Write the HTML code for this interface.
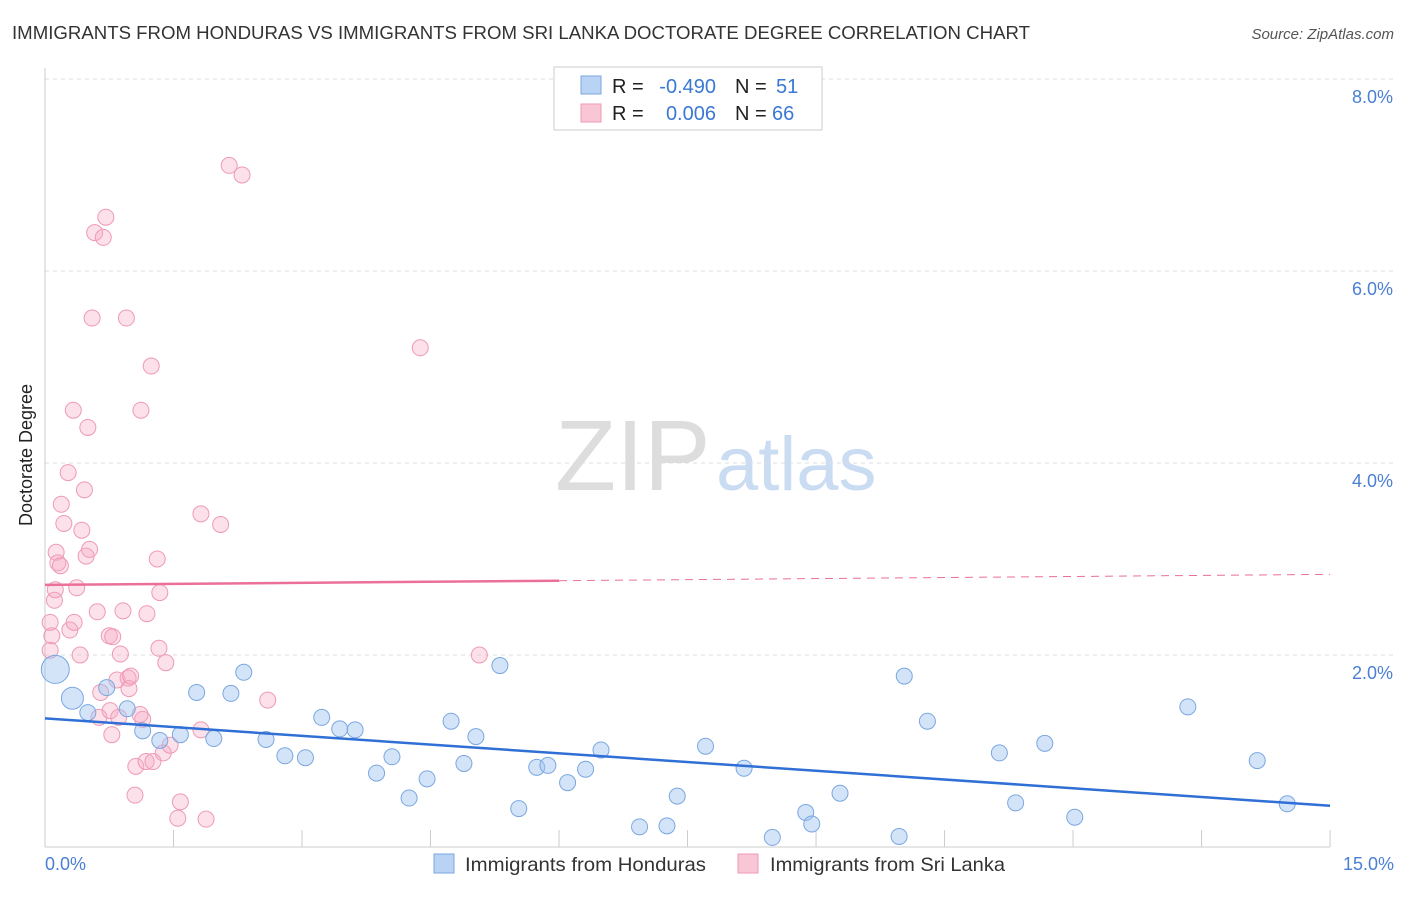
<!DOCTYPE html>
<html><head><meta charset="utf-8"><style>
body{margin:0;background:#fff;font-family:"Liberation Sans",sans-serif;}
svg text{font-family:"Liberation Sans",sans-serif;}
</style></head><body>
<svg id="chart" width="1406" height="892" xmlns="http://www.w3.org/2000/svg">
<text x="12" y="39" font-size="18" fill="#333" textLength="1018" lengthAdjust="spacingAndGlyphs">IMMIGRANTS FROM HONDURAS VS IMMIGRANTS FROM SRI LANKA DOCTORATE DEGREE CORRELATION CHART</text>
<text x="1394" y="39" font-size="15" fill="#555" font-style="italic" text-anchor="end">Source: ZipAtlas.com</text>
<text x="555" y="490" font-size="100" fill="#ddd" font-family="Liberation Serif">ZIP</text>
<text x="716" y="490" font-size="76" fill="#c9dcf2">atlas</text>
<g id="grid"></g>
<line x1="45" y1="68" x2="45" y2="847" stroke="#ccc"/>
<line x1="45" y1="847" x2="1330" y2="847" stroke="#ccc"/>
<text x="32" y="455" font-size="18" fill="#222" transform="rotate(-90 32 455)" text-anchor="middle">Doctorate Degree</text>
<text x="45" y="870" font-size="18" fill="#4a7fd4">0.0%</text>
<text x="1394" y="870" font-size="18" fill="#4a7fd4" text-anchor="end">15.0%</text>
<g id="points"></g>
<g id="trends"></g>
<g>
<rect x="554" y="67" width="268" height="63" fill="#fff" stroke="#ccc"/>
<rect x="581" y="76" width="20" height="18" fill="#b9d3f4" stroke="#7aa7e0"/>
<rect x="581" y="104" width="20" height="18" fill="#f9c6d6" stroke="#ee9ab4"/>
<text x="612" y="93" font-size="20" fill="#222">R =</text>
<text x="716" y="93" font-size="20" fill="#3a78d4" text-anchor="end">-0.490</text>
<text x="735" y="93" font-size="20" fill="#222">N =</text>
<text x="776" y="93" font-size="20" fill="#3a78d4">51</text>
<text x="612" y="120" font-size="20" fill="#222">R =</text>
<text x="716" y="120" font-size="20" fill="#3a78d4" text-anchor="end">0.006</text>
<text x="735" y="120" font-size="20" fill="#222">N =</text>
<text x="772" y="120" font-size="20" fill="#3a78d4">66</text>
</g>
<g>
<rect x="434" y="854" width="20" height="19" fill="#b9d3f4" stroke="#7aa7e0"/>
<text x="465" y="871" font-size="19.5" fill="#333" textLength="241" lengthAdjust="spacingAndGlyphs">Immigrants from Honduras</text>
<rect x="738" y="854" width="20" height="19" fill="#f9c6d6" stroke="#ee9ab4"/>
<text x="770" y="871" font-size="19.5" fill="#333" textLength="235" lengthAdjust="spacingAndGlyphs">Immigrants from Sri Lanka</text>
</g>
</svg>
<script>
const yTicks=[2,4,6,8];
const yTickLabels=["2.0%","4.0%","6.0%","8.0%"];
const xTicks=[0,1.5,3,4.5,6,7.5,9,10.5,12,13.5,15];
const hondX=[0.12,0.32,0.5,0.72,0.96,1.14,1.34,1.58,1.77,1.97,2.17,2.32,2.58,2.8,3.04,3.23,3.44,3.62,3.87,4.05,4.25,4.46,4.74,4.89,5.03,5.31,5.53,5.74,5.87,6.1,6.31,6.49,6.94,7.26,7.38,7.71,8.16,8.49,8.88,8.95,9.28,9.97,10.03,10.3,11.14,11.33,11.67,12.02,13.34,14.15,14.5];
const hondY=[1.85,1.55,1.4,1.66,1.44,1.21,1.11,1.17,1.61,1.13,1.6,1.82,1.12,0.95,0.93,1.35,1.23,1.22,0.77,0.94,0.51,0.71,1.31,0.87,1.15,1.89,0.4,0.83,0.85,0.67,0.81,1.01,0.21,0.22,0.53,1.05,0.82,0.1,0.36,0.24,0.56,0.11,1.78,1.31,0.98,0.46,1.08,0.31,1.46,0.9,0.45];
const hondS=[14,11,8,8,8,8,8,8,8,8,8,8,8,8,8,8,8,8,8,8,8,8,8,8,8,8,8,8,8,8,8,8,8,8,8,8,8,8,8,8,8,8,8,8,8,8,8,8,8,8,8];
const lankaX=[0.06,0.08,0.06,0.11,0.13,0.15,0.19,0.22,0.27,0.29,0.33,0.34,0.37,0.41,0.43,0.46,0.48,0.5,0.52,0.55,0.58,0.61,0.63,0.65,0.68,0.71,0.75,0.76,0.78,0.79,0.84,0.86,0.88,0.91,0.95,0.97,0.98,1.0,1.06,1.05,1.12,1.14,1.18,1.19,1.24,1.26,1.31,1.33,1.34,1.38,1.41,1.46,1.55,1.58,1.82,1.82,1.88,2.05,2.15,2.3,2.6,4.38,5.07,0.18,0.12,1.11];
const lankaY=[2.05,2.2,2.34,2.57,3.07,2.96,3.57,3.37,3.9,2.26,4.55,2.34,2.7,2.0,3.3,3.72,3.03,4.37,3.1,5.51,6.4,2.45,1.35,1.61,6.35,6.56,2.2,1.42,1.17,2.19,1.74,1.35,2.01,2.46,5.51,1.76,1.65,1.78,0.84,0.54,4.55,1.33,0.89,2.43,5.01,0.89,3.0,2.07,2.65,0.98,1.92,1.06,0.3,0.47,3.47,1.22,0.29,3.36,7.1,7.0,1.53,5.2,2.0,2.93,2.68,1.38];
const hondTrend=[1.34,0.43];
const lankaTrend=[2.73,2.84];
const NS='http://www.w3.org/2000/svg';
const xs=v=>45+v*85.67, ys=v=>847-v*96;
const grid=document.getElementById('grid'), pts=document.getElementById('points'), tr=document.getElementById('trends');
function mk(tag,attrs,parent){const e=document.createElementNS(NS,tag);for(const k in attrs)e.setAttribute(k,attrs[k]);parent.appendChild(e);return e;}
yTicks.forEach((t,i)=>{
 const l=mk('line',{x1:45,x2:1394,y1:ys(t),y2:ys(t),stroke:'#ddd','stroke-dasharray':'4,4'},grid);
 
 
 const tx=mk('text',{x:1393,y:ys(t)+24,'font-size':18,fill:'#4a7fd4','text-anchor':'end'},grid);
 tx.textContent=yTickLabels[i];
 
 
});
xTicks.forEach(t=>{
 const l=mk('line',{x1:xs(t),x2:xs(t),y1:830,y2:847,stroke:'#ccc'},grid);
 
 
});
lankaX.forEach((x,i)=>{
 const c=mk('circle',{cx:xs(x),cy:ys(lankaY[i]),r:8,fill:'rgba(246,170,195,0.35)',stroke:'#ee9ab4','stroke-width':1},pts);
 
 
});
hondX.forEach((x,i)=>{
 const c=mk('circle',{cx:xs(x),cy:ys(hondY[i]),r:hondS[i],fill:'rgba(160,195,240,0.45)',stroke:'#7aa7e0','stroke-width':1},pts);
 
 
});
const hl=mk('line',{x1:xs(0),y1:ys(hondTrend[0]),x2:xs(15),y2:ys(hondTrend[1]),stroke:'#2f6fd6','stroke-width':2.5},tr);


const lm=lankaTrend[0]+(lankaTrend[1]-lankaTrend[0])*6/15;
const ll=mk('line',{x1:xs(0),y1:ys(lankaTrend[0]),x2:xs(6),y2:ys(lm),stroke:'#ea6f9a','stroke-width':2.5},tr);


const ld=mk('line',{x1:xs(6),y1:ys(lm),x2:xs(15),y2:ys(lankaTrend[1]),stroke:'#ea6f9a','stroke-width':1,'stroke-dasharray':'8,6'},tr);


</script>
</body></html>
